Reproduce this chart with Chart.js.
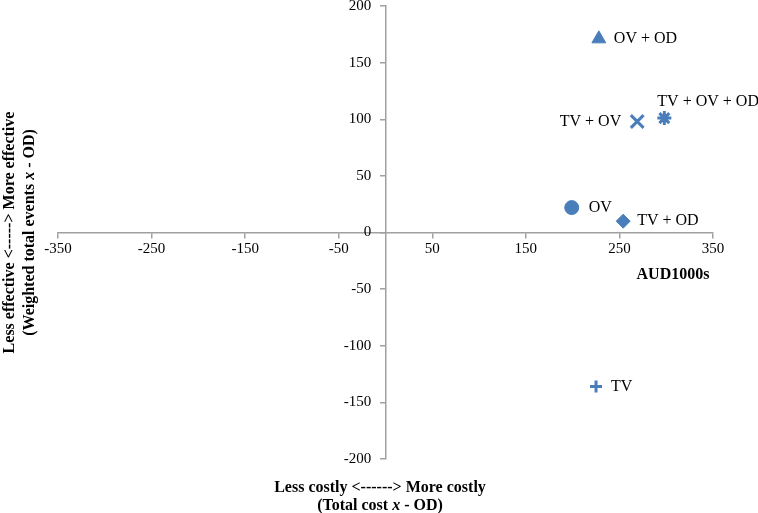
<!DOCTYPE html>
<html>
<head>
<meta charset="utf-8">
<script src="https://cdn.jsdelivr.net/npm/chart.js"></script>
<style>
  html, body { margin: 0; padding: 0; background: #fff; }
  #wrap { width: 758px; height: 513px; }
</style>
</head>
<body>
<div id="wrap"><canvas id="chart"></canvas></div>
<script>
// strategy labels and their (cost, effect) relative to OD
const strategies = ['OV + OD', 'TV + OV', 'TV + OV + OD', 'OV', 'TV + OD', 'TV'];
const costValues = [228, 269, 298, 199, 254, 225];
const effectValues = [171, 98, 101, 22, 10, -136];
const markers = ['triangle', 'crossRot', 'star', 'circle', 'rectRot', 'cross'];

const xTicks = [-350, -250, -150, -50, 50, 150, 250, 350];
const yTicks = [-200, -150, -100, -50, 0, 50, 100, 150, 200];

// where each label sits relative to its marker (px)
const labelOffsets = [[15, 0, 'left'], [-16, 0, 'right'], [-7, -16, 'left'], [17, 0, 'left'], [14, 0, 'left'], [15, 0, 'left']];
const markerSizes = { triangle: 8, crossRot: 9, star: 7, circle: 7, rectRot: 7, cross: 6 };

const blue = '#4a7ebb';
const axisGray = '#a0a0a0';
const serif = '"Liberation Serif", "Times New Roman", serif';

const datasets = strategies.map((name, i) => ({
    label: name,
    data: [{ x: costValues[i], y: effectValues[i] }],
    pointStyle: markers[i],
    backgroundColor: blue,
    borderColor: blue,
    borderWidth: (markers[i] === 'crossRot' || markers[i] === 'star' || markers[i] === 'cross') ? 3 : 1,
    pointRadius: markerSizes[markers[i]],
    pointHoverRadius: markerSizes[markers[i]]
}));

// draw a centred line made of normal / italic pieces
function mixedLine(ctx, parts, cx, y) {
    const fonts = parts.map(p => (p[1] ? 'italic bold 16px ' : 'bold 16px ') + serif);
    let total = 0;
    const widths = parts.map((p, i) => { ctx.font = fonts[i]; const w = ctx.measureText(p[0]).width; total += w; return w; });
    let x = cx - total / 2;
    ctx.textAlign = 'left';
    parts.forEach((p, i) => { ctx.font = fonts[i]; ctx.fillText(p[0], x, y); x += widths[i]; });
}

const textPlugin = {
    id: 'textPlugin',
    afterDatasetsDraw(chart) {
        const ctx = chart.ctx;
        const xAxisY = chart.scales.y.getPixelForValue(0);
        ctx.save();
        ctx.fillStyle = '#000';
        ctx.textBaseline = 'middle';

        // point labels
        ctx.font = '16px ' + serif;
        chart.data.datasets.forEach((ds, i) => {
            const pt = chart.getDatasetMeta(i).data[0];
            const off = labelOffsets[i];
            ctx.textAlign = off[2];
            ctx.fillText(ds.label, pt.x + off[0], pt.y + off[1]);
        });

        ctx.font = 'bold 16px ' + serif;
        ctx.textAlign = 'center';
        ctx.fillText('AUD1000s', 673, xAxisY + 42);

        // x title
        mixedLine(ctx, [['Less costly <------> More costly', false]], 380, 488);
        mixedLine(ctx, [['(Total cost ', false], ['x', true], [' - OD)', false]], 380, 506);

        // y title
        ctx.translate(0, xAxisY);
        ctx.rotate(-Math.PI / 2);
        mixedLine(ctx, [['Less effective <-----> More effective', false]], 0, 10);
        mixedLine(ctx, [['(Weighted total events ', false], ['x', true], [' - OD)', false]], 0, 30);
        ctx.restore();
    }
};

new Chart(document.getElementById('chart'), {
    type: 'scatter',
    data: { datasets: datasets },
    plugins: [textPlugin],
    options: {
        responsive: true,
        maintainAspectRatio: false,
        animation: false,
        layout: { autoPadding: false, padding: { left: 58, right: 45, top: 6, bottom: 54 } },
        plugins: {
            legend: { display: false },
            tooltip: { enabled: false }
        },
        scales: {
            x: {
                type: 'linear',
                min: -350,
                max: 350,
                position: { y: 0 },
                afterBuildTicks: (scale) => { scale.ticks = xTicks.map(v => ({ value: v })); },
                afterFit: (scale) => { scale.height = 0; },
                grid: { drawOnChartArea: false, drawTicks: true, tickLength: 5, color: axisGray, lineWidth: 1.5 },
                border: { color: axisGray, width: 1.5 },
                ticks: {
                    autoSkip: false,
                    maxRotation: 0,
                    minRotation: 0,
                    padding: 3,
                    color: '#000',
                    font: { family: serif, size: 15 }
                }
            },
            y: {
                type: 'linear',
                min: -200,
                max: 200,
                position: { x: 0 },
                afterBuildTicks: (scale) => { scale.ticks = yTicks.map(v => ({ value: v })); },
                afterFit: (scale) => { scale.width = 0; },
                grid: { drawOnChartArea: false, drawTicks: true, tickLength: 5, color: axisGray, lineWidth: 1.5 },
                border: { color: axisGray, width: 1.5 },
                ticks: {
                    autoSkip: false,
                    padding: 0,
                    color: '#000',
                    // small line height keeps the end labels from reserving extra top space
                    font: { family: serif, size: 15, lineHeight: 0.6 },
                    // labels sit on the axis line itself, so push them left with trailing spaces
                    callback: (v) => v + '   \u2009'
                }
            }
        }
    }
});
</script>
</body>
</html>
